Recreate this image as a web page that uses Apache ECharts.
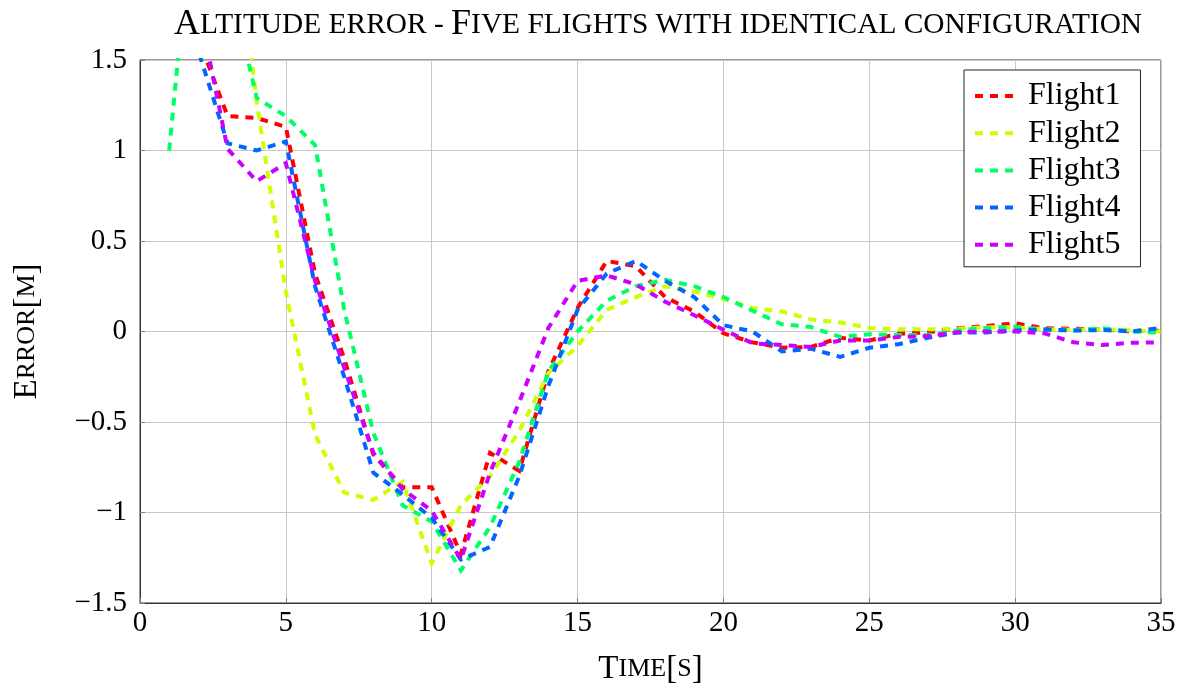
<!DOCTYPE html>
<html>
<head>
<meta charset="utf-8">
<script src="https://cdn.jsdelivr.net/npm/echarts@6/dist/echarts.min.js"></script>
<style>
html,body{margin:0;padding:0;background:#fff;}
#chart{width:1184px;height:688px;}
</style>
</head>
<body>
<div id="chart"></div>
<script>
// Time samples [s]
const time = [1,2,3,4,5,6,7,8,9,10,11,12,13,14,15,16,17,18,19,20,21,22,23,24,25,26,27,28,29,30,31,32,33,34,35];
// Altitude error [m] per flight (values above 1.5 are clipped by the axis)
const flight1 = [2.2,1.62,1.19,1.18,1.13,0.32,-0.15,-0.68,-0.86,-0.86,-1.23,-0.67,-0.77,-0.22,0.13,0.39,0.36,0.19,0.11,-0.01,-0.06,-0.09,-0.085,-0.035,-0.05,-0.012,-0.005,0.018,0.03,0.045,0.018,0.015,0.012,0.0,0.005];
const flight2 = [3.0,3.0,2.62,1.27,0.22,-0.57,-0.89,-0.93,-0.83,-1.28,-0.96,-0.80,-0.55,-0.23,-0.08,0.12,0.19,0.25,0.22,0.18,0.13,0.11,0.067,0.05,0.02,0.012,0.012,0.015,0.023,0.023,0.012,0.01,0.012,0.006,0.0];
const flight3 = [1.0,2.67,1.99,1.29,1.19,1.03,0.12,-0.56,-0.96,-1.05,-1.32,-1.08,-0.72,-0.22,0.0,0.17,0.25,0.285,0.25,0.19,0.115,0.04,0.025,-0.03,-0.015,-0.02,-0.02,0.005,0.02,0.027,0.008,0.006,0.018,0.0,-0.007];
const flight4 = [2.0,1.55,1.04,1.0,1.05,0.25,-0.25,-0.78,-0.90,-1.03,-1.26,-1.19,-0.80,-0.30,0.12,0.32,0.39,0.28,0.19,0.035,0.0,-0.11,-0.095,-0.14,-0.09,-0.07,-0.035,-0.005,-0.005,0.005,0.012,0.005,0.008,0.0,0.02];
const flight5 = [2.2,1.81,1.01,0.83,0.93,0.28,-0.2,-0.67,-0.87,-0.99,-1.26,-0.78,-0.39,0.02,0.28,0.31,0.26,0.165,0.09,0.01,-0.065,-0.075,-0.085,-0.05,-0.05,-0.03,-0.025,-0.005,0,0,-0.01,-0.06,-0.075,-0.062,-0.06];

const seriesNames = ['Flight1','Flight2','Flight3','Flight4','Flight5'];
const seriesValues = [flight1, flight2, flight3, flight4, flight5];
const colors = ['#ff0000','#ccff00','#00ff66','#0066ff','#cc00ff'];

const FONT = '"Liberation Serif", "DejaVu Serif", serif';

const chart = echarts.init(document.getElementById('chart'));
const series = seriesNames.map((name, i) => ({
  name: name,
  type: 'line',
  data: time.map((t, k) => [t, seriesValues[i][k]]),
  showSymbol: false,
  symbol: 'none',
  clip: true,
  color: colors[i],
  lineStyle: { width: 4, type: [8, 7], cap: 'butt', join: 'miter', color: colors[i] }
}));

const scRich = {
  big: { fontFamily: FONT, fontSize: 33, fontWeight: 'normal', color: '#000' },
  sm: { fontFamily: FONT, fontSize: 26, fontWeight: 'normal', color: '#000' }
};
const dashIcon = 'path://M0,0h8v4h-8zM15,0h8v4h-8zM30,0h8v4h-8z';

chart.setOption({
  animation: false,
  backgroundColor: '#ffffff',
  color: colors,
  title: {
    text: '{big|A}{sm|LTITUDE ERROR - }{big|F}{sm|IVE FLIGHTS WITH IDENTICAL CONFIGURATION}',
    left: 653, textAlign: 'center',
    top: 2,
    textStyle: {
      fontWeight: 'normal',
      rich: {
        big: { fontFamily: FONT, fontSize: 36, fontWeight: 'normal', color: '#000' },
        sm: { fontFamily: FONT, fontSize: 29.4, fontWeight: 'normal', color: '#000' }
      }
    }
  },
  grid: {
    left: 140, right: 23, top: 60, bottom: 85,
    outerBoundsMode: 'none',
    containLabel: false,
    show: true, borderColor: '#333', borderWidth: 1, backgroundColor: 'transparent'
  },
  legend: {
    orient: 'vertical',
    left: 964, top: 70,
    padding: [10, 20, 6, 11],
    itemGap: 5.2,
    itemWidth: 38, itemHeight: 4,
    borderColor: '#222', borderWidth: 1,
    backgroundColor: '#fff',
    textStyle: { fontFamily: FONT, fontSize: 32, color: '#000', padding: [0, 0, 0, 10] },
    data: seriesNames.map(n => ({ name: n, icon: dashIcon }))
  },
  xAxis: {
    type: 'value', min: 0, max: 35, interval: 5,
    name: '{big|T}{sm|IME}{big|[}{sm|S}{big|]}',
    nameLocation: 'middle', nameGap: 50,
    nameTextStyle: { rich: scRich },
    axisLine: { show: true, onZero: false, lineStyle: { color: '#333', width: 1 } },
    axisTick: { show: true, inside: true, length: 5, lineStyle: { color: '#808080' } },
    axisLabel: { fontFamily: FONT, fontSize: 29, color: '#000', margin: 6 },
    splitLine: { show: true, lineStyle: { color: '#c8c8c8', width: 1 } }
  },
  yAxis: {
    type: 'value', min: -1.5, max: 1.5, interval: 0.5,
    name: '{big|E}{sm|RROR}{big|[}{sm|M}{big|]}',
    nameLocation: 'middle', nameGap: 96, nameRotate: 90,
    nameTextStyle: { rich: scRich },
    axisLine: { show: true, onZero: false, lineStyle: { color: '#333', width: 1 } },
    axisTick: { show: true, inside: true, length: 5, lineStyle: { color: '#808080' } },
    axisLabel: {
      fontFamily: FONT, fontSize: 29, color: '#000', margin: 13,
      formatter: v => String(v).replace('-', '\u2212')
    },
    splitLine: { show: true, lineStyle: { color: '#c8c8c8', width: 1 } }
  },
  series: series
});
</script>
</body>
</html>
